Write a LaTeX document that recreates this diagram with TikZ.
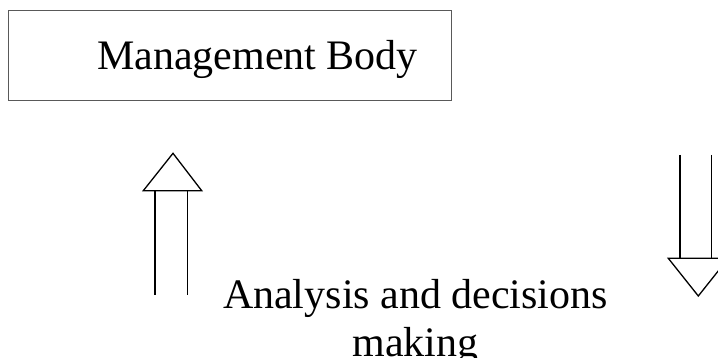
\documentclass[tikz,border=0pt]{standalone}
\usepackage{fontspec}
\setmainfont{Liberation Serif}
\begin{document}
\begin{tikzpicture}[x=1pt,y=-1pt,
  boxline/.style={draw=black!65,line width=0.8pt},
  arrowline/.style={draw=black,line width=1.3pt,line join=miter},
  bigtext/.style={inner sep=0pt,font=\fontsize{42}{48}\selectfont}]
\clip (0,0) rectangle (718,358);
\fill[white] (0,0) rectangle (718,358);
% Management body box
\draw[boxline] (8.5,10.7) rectangle (451.7,100);
\node[bigtext,anchor=base west] (mb) at (97,70) {Management Body};
% up arrow
\draw[arrowline] (143.3,190.7) -- (173,153.3) -- (201.7,190.7) -- cycle;
\draw[arrowline] (155,190.7) -- (155,295);
\draw[arrowline] (187.7,190.7) -- (187.7,295);
% down arrow
\draw[arrowline] (680,155) -- (680,258.3);
\draw[arrowline] (711.7,155) -- (711.7,258.3);
\draw[arrowline] (668.3,258.3) -- (698.3,296) -- (728.3,258.3) -- cycle;
% label
\node[bigtext,align=center,anchor=base] (ad) at (415.5,356.3) {Analysis and decisions\\making};
\end{tikzpicture}
\end{document}
